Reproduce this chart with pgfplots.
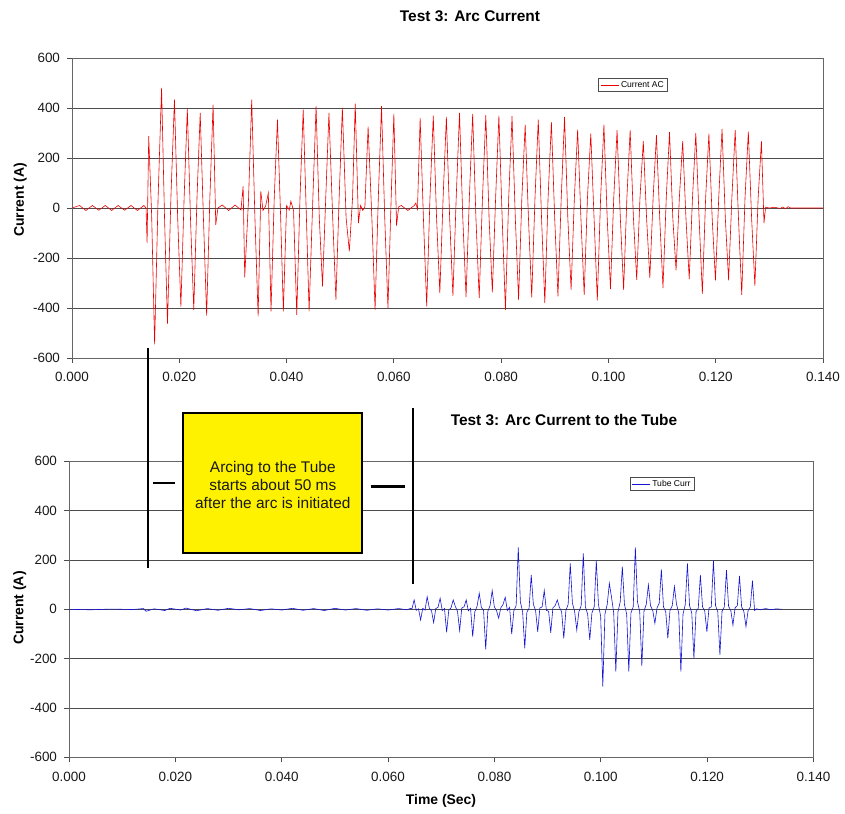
\documentclass[border=0pt]{standalone}
\usepackage{fontspec}
\setmainfont{Liberation Sans}
\usepackage{pgfplots}
\pgfplotsset{compat=1.18}
\definecolor{arcred}{RGB}{235,0,0}
\definecolor{tubeblue}{RGB}{20,20,215}
\pgfplotsset{
  arcaxis/.style={
    scale only axis, anchor=south west,
    xmin=0, xmax=0.14, ymin=-600, ymax=600,
    xtick={0,0.02,0.04,0.06,0.08,0.1,0.12,0.14},
    xticklabels={0.000,0.020,0.040,0.060,0.080,0.100,0.120,0.140},
    ytick={-600,-400,-200,0,200,400,600},
    yticklabels={-600,-400,-200,0,200,400,600},
    tick pos=left, tick align=outside, major tick length=5bp,
    ymajorgrids, grid style={black!70, line width=0.7bp},
    axis line style={black!60, line width=0.8bp},
    tick style={black!70, line width=0.8bp},
    ticklabel style={font=\fontsize{13.5}{16}\selectfont, text=black!90},
    xticklabel style={yshift=-6bp},
    yticklabel style={xshift=-3.5bp},
    ylabel style={font=\fontsize{14}{16}\selectfont\bfseries, anchor=center},
    legend style={font=\fontsize{8.6}{10}\selectfont, draw=black!70, line width=0.6bp,
      inner xsep=1.5bp, inner ysep=0.5bp, anchor=center, legend cell align=left},
  }
}
\begin{document}
\begin{tikzpicture}
\path[use as bounding box] (0bp,0bp) rectangle (845bp,814bp);

% ---------------- top axis ----------------
\begin{axis}[arcaxis, at={(72bp,456bp)}, width=751bp, height=300bp,
  ylabel={Current (A)}, ylabel style={at={(axis description cs:-0.069,0.527)}},
  legend style={at={(0.747,0.91)}},
  legend image code/.code={\draw[draw=arcred, line width=0.9bp] (0bp,0bp) -- (18bp,0bp);}]
\addplot[arcred, line width=0.6bp, no marks] coordinates {
(0,0) (0.0014,10) (0.0026,-10) (0.0038,10) (0.0050,-9) (0.0062,10) (0.0074,-10) (0.0086,10) (0.0098,-9) (0.0110,10) (0.0122,-10) (0.0134,10) (0.0138,0)
(0.0140,-140) (0.0143,287) (0.01485,-30) (0.0154,-545) (0.01605,40) (0.0167,480) (0.01725,-40) (0.0178,-462) (0.01845,50) (0.0191,433) (0.0197,-40) (0.0203,-395) (0.0209,40) (0.0215,396) (0.0221,-50) (0.0227,-407) (0.0233,40) (0.0239,380) (0.0245,-40) (0.0251,-430) (0.0257,40) (0.0263,413) (0.0268,-67) (0.0272,0)
(0.0280,12) (0.0292,-10) (0.0304,12) (0.0315,-8)
(0.0319,87) (0.0322,-277) (0.0329,30) (0.0335,433) (0.0341,-40) (0.0347,-433) (0.0352,67) (0.0356,-10) (0.0361,8) (0.0366,60) (0.0371,-413) (0.0377,40) (0.0383,353) (0.0389,-40) (0.0394,-413) (0.0400,10) (0.0405,-8) (0.0408,27) (0.0413,-10) (0.0419,-427) (0.0425,40) (0.0431,393) (0.0437,-40) (0.0442,-413) (0.0449,40) (0.0455,407) (0.0461,-40) (0.0467,-313) (0.0473,40) (0.0479,380) (0.0486,-40) (0.0492,-367) (0.0498,40) (0.0504,400) (0.0511,-40) (0.0517,-173) (0.0523,40) (0.0528,417) (0.0534,-60) (0.0538,10) (0.0542,-10) (0.0546,5) (0.0552,325) (0.0559,-40) (0.0565,-407) (0.0571,40) (0.0577,407) (0.0583,-40) (0.0589,-400) (0.0595,40) (0.0600,376) (0.0605,-70) (0.0609,5)
(0.0614,10) (0.0626,-10) (0.0638,10) (0.0641,20) (0.0644,-5)
(0.06490,360) (0.06551,-40) (0.06612,-393) (0.06673,40)
(0.06735,369) (0.06796,-40) (0.06857,-340) (0.06918,40)
(0.06979,364) (0.07040,-40) (0.07101,-351) (0.07162,40)
(0.07224,380) (0.07285,-40) (0.07346,-356) (0.07407,40)
(0.07469,376) (0.07530,-40) (0.07591,-360) (0.07652,40)
(0.07714,371) (0.07775,-40) (0.07836,-337) (0.07897,40)
(0.07958,369) (0.08019,-40) (0.08080,-407) (0.08141,40)
(0.08203,367) (0.08264,-40) (0.08325,-367) (0.08386,40)
(0.08448,333) (0.08509,-40) (0.08570,-357) (0.08631,40)
(0.08692,353) (0.08753,-40) (0.08814,-380) (0.08875,40)
(0.08937,343) (0.08998,-40) (0.09059,-353) (0.09120,40)
(0.09182,364) (0.09243,-40) (0.09304,-327) (0.09365,40)
(0.09426,313) (0.09487,-40) (0.09548,-347) (0.09609,40)
(0.09671,297) (0.09732,-40) (0.09793,-369) (0.09854,40)
(0.09916,333) (0.09977,-40) (0.10038,-324) (0.10099,40)
(0.10161,311) (0.10222,-40) (0.10283,-327) (0.10344,40)
(0.10405,311) (0.10466,-40) (0.10527,-287) (0.10588,40)
(0.10650,267) (0.10711,-40) (0.10772,-280) (0.10833,40)
(0.10895,291) (0.10956,-40) (0.11017,-320) (0.11078,40)
(0.11139,303) (0.11200,-40) (0.11261,-249) (0.11322,40)
(0.11384,267) (0.11445,-40) (0.11506,-284) (0.11567,40)
(0.11629,300) (0.11690,-40) (0.11751,-343) (0.11812,40)
(0.11873,297) (0.11934,-40) (0.11995,-289) (0.12056,40)
(0.12118,316) (0.12179,-40) (0.12240,-289) (0.12301,40)
(0.12363,311) (0.12424,-40) (0.12485,-347) (0.12546,40)
(0.12608,305) (0.12669,-40) (0.12730,-311) (0.12791,40)
(0.12852,267) (0.12900,-60) (0.12930,3) (0.1300,0) (0.1310,3) (0.1320,-2) (0.1325,4) (0.1330,-3) (0.1335,5) (0.1340,0) (0.1400,0)
};
\addlegendentry{Current AC}
\end{axis}

% ---------------- bottom axis ----------------
\begin{axis}[arcaxis, at={(69bp,56.7bp)}, width=744.5bp, height=296bp,
  ylabel={Current (A)}, ylabel style={at={(axis description cs:-0.066,0.504)}},
  legend style={at={(0.7965,0.923)}},
  legend image code/.code={\draw[draw=tubeblue, line width=0.9bp] (0bp,0bp) -- (18bp,0bp);}]
\addplot[tubeblue, line width=0.6bp, no marks] coordinates {
(0,0) (0.004,-2) (0.008,1) (0.012,-1) (0.014,3) (0.0145,-8) (0.016,2) (0.018,-5) (0.019,4) (0.021,-3) (0.022,5) (0.024,-6) (0.026,3) (0.028,-4) (0.030,4) (0.032,-2) (0.034,3) (0.036,-5) (0.038,2) (0.040,-3) (0.042,4) (0.044,-4) (0.046,3) (0.048,-5) (0.050,4) (0.052,-3) (0.054,3) (0.056,-4) (0.058,2) (0.060,-3) (0.062,3) (0.0635,-2) (0.0643,4)
(0.06450,3) (0.06490,38) (0.06530,-4) (0.06572,2) (0.06612,-43) (0.06652,4)
(0.06695,-3) (0.06735,51) (0.06775,5) (0.06817,-6) (0.06857,-54) (0.06897,3)
(0.06939,8) (0.06979,45) (0.07019,-5) (0.07061,3) (0.07101,-93) (0.07141,-4)
(0.07184,6) (0.07224,38) (0.07264,12) (0.07306,-8) (0.07346,-86) (0.07386,5)
(0.07429,10) (0.07469,38) (0.07509,-6) (0.07551,4) (0.07591,-111) (0.07631,-10)
(0.07674,12) (0.07714,65) (0.07754,8) (0.07796,-5) (0.07836,-162) (0.07876,-8)
(0.07918,15) (0.07958,76) (0.07998,10) (0.08040,-6) (0.08080,-36) (0.08120,6)
(0.08163,20) (0.08203,49) (0.08243,-5) (0.08285,8) (0.08325,-101) (0.08365,-6)
(0.08408,15) (0.08448,251) (0.08488,30) (0.08530,-10) (0.08570,-158) (0.08610,-12)
(0.08652,5) (0.08692,139) (0.08732,20) (0.08774,-5) (0.08814,-91) (0.08854,5)
(0.08897,10) (0.08937,76) (0.08977,-4) (0.09019,-8) (0.09059,-95) (0.09099,6)
(0.09142,15) (0.09182,38) (0.09222,8) (0.09264,-10) (0.09304,-118) (0.09344,-5)
(0.09386,20) (0.09426,186) (0.09466,25) (0.09508,-8) (0.09548,-84) (0.09588,-10)
(0.09631,15) (0.09671,227) (0.09711,10) (0.09753,-20) (0.09793,-124) (0.09833,-15)
(0.09876,10) (0.09916,197) (0.09956,20) (0.09998,-30) (0.10038,-313) (0.10078,-20)
(0.10121,20) (0.10161,105) (0.10201,50) (0.10243,-15) (0.10283,-253) (0.10323,-10)
(0.10365,30) (0.10405,173) (0.10445,20) (0.10487,-20) (0.10527,-253) (0.10567,-15)
(0.10610,10) (0.10650,251) (0.10690,30) (0.10732,-10) (0.10772,-230) (0.10812,-8)
(0.10855,20) (0.10895,99) (0.10935,15) (0.10977,-5) (0.11017,-57) (0.11057,5)
(0.11099,25) (0.11139,162) (0.11179,10) (0.11221,-10) (0.11261,-118) (0.11301,-5)
(0.11344,15) (0.11384,92) (0.11424,20) (0.11466,-15) (0.11506,-253) (0.11546,-20)
(0.11589,20) (0.11629,186) (0.11669,15) (0.11711,-15) (0.11751,-199) (0.11791,-10)
(0.11833,5) (0.11873,139) (0.11913,10) (0.11955,-8) (0.11995,-91) (0.12035,5)
(0.12078,10) (0.12118,197) (0.12158,15) (0.12200,-10) (0.12240,-185) (0.12280,-8)
(0.12323,10) (0.12363,159) (0.12403,12) (0.12445,-5) (0.12485,-64) (0.12525,6)
(0.12568,15) (0.12608,135) (0.12648,10) (0.12690,-8) (0.12730,-70) (0.12770,-5)
(0.12812,10) (0.12852,116) (0.12892,-5) (0.1293,2) (0.1300,-2) (0.1310,3) (0.1320,-2) (0.1330,2) (0.1340,0)
};
\addlegendentry{Tube Curr}
\end{axis}

% ---------------- titles and labels ----------------
\node[font=\fontsize{15.5}{18}\selectfont\bfseries] at (470bp,798bp) {Test 3: Arc Current};
\node[font=\fontsize{15.5}{18}\selectfont\bfseries] at (564bp,394bp) {Test 3: Arc Current to the Tube};
\node[font=\fontsize{14}{16}\selectfont\bfseries] at (441bp,13bp) {Time (Sec)};

% ---------------- annotation ----------------
\draw[black, line width=2bp] (148bp,466bp) -- (148bp,246bp);
\draw[black, line width=2bp] (413.3bp,406bp) -- (413.3bp,230bp);
\draw[black, line width=2bp] (152.7bp,330.7bp) -- (175bp,330.7bp);
\draw[black, line width=2.4bp] (370.7bp,327.3bp) -- (405bp,327.3bp);
\draw[black, line width=2bp, fill=yellow] (183.3bp,400.7bp) rectangle (362.3bp,261.3bp);
\node[align=center, font=\fontsize{15.5}{18.3}\selectfont, text=black!90] at (272.8bp,329bp)
  {Arcing to the Tube\\starts about 50 ms\\after the arc is initiated};
\end{tikzpicture}
\end{document}
